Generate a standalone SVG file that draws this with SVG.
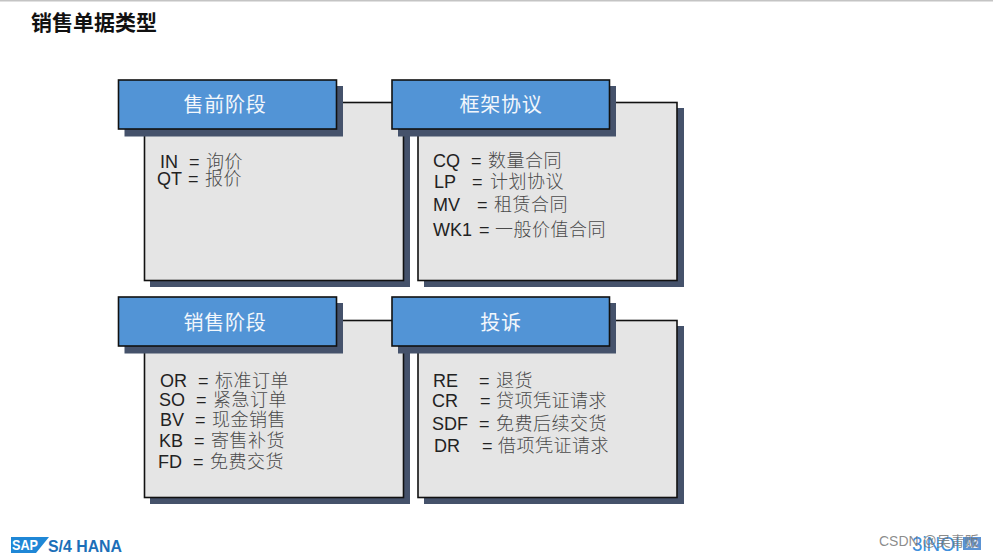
<svg xmlns="http://www.w3.org/2000/svg" width="993" height="558" viewBox="0 0 993 558">
<style>
.body{fill:#e5e5e5;stroke:#111;stroke-width:1.6}
.shadow{fill:#45526b}
.head{fill:#5294d6;stroke:#111;stroke-width:1.6}
.title{font:400 20px "Noto Sans CJK SC","Liberation Serif",serif;fill:#f2f7fc;text-anchor:middle;letter-spacing:.7px}
.lat{font:18px "Liberation Sans",Arial,sans-serif;fill:#222}
.cjk{font:18px "Noto Sans CJK SC",sans-serif;font-weight:300;fill:#4a4a4a;letter-spacing:.5px}
</style>
<rect width="993" height="558" fill="#fff"/>
<rect width="993" height="1.500" fill="#c4c4c4"/>
<text x="31" y="30" font-family="'Noto Sans CJK SC',sans-serif" font-size="21" font-weight="700" fill="#111">销售单据类型</text>

<g id="presales">
<rect class="shadow" x="150" y="108" width="260" height="179"/>
<rect class="body" x="144.500" y="102.500" width="259" height="178"/>
<rect class="shadow" x="124.500" y="86" width="218.500" height="50.500"/>
<rect class="head" x="118.500" y="80" width="218" height="49"/>
<text class="title" x="225" y="112">售前阶段</text>
<text class="lat" x="160" y="168">IN</text><text class="lat" x="189" y="168">=</text><text class="cjk" x="206" y="168">询价</text>
<text class="lat" x="157" y="185">QT</text><text class="lat" x="188" y="185">=</text><text class="cjk" x="205" y="185">报价</text>
</g>

<g id="agreements">
<rect class="shadow" x="424" y="108" width="260" height="179"/>
<rect class="body" x="418" y="102.500" width="259" height="178"/>
<rect class="shadow" x="398" y="86" width="218" height="50.500"/>
<rect class="head" x="392" y="80" width="217.500" height="49"/>
<text class="title" x="501" y="112">框架协议</text>
<text class="lat" x="433" y="167">CQ</text><text class="lat" x="471" y="167">=</text><text class="cjk" x="488" y="167">数量合同</text>
<text class="lat" x="434" y="188">LP</text><text class="lat" x="472" y="188">=</text><text class="cjk" x="490" y="188">计划协议</text>
<text class="lat" x="433" y="211">MV</text><text class="lat" x="477" y="211">=</text><text class="cjk" x="494" y="211">租赁合同</text>
<text class="lat" x="433" y="236">WK1</text><text class="lat" x="479" y="236">=</text><text class="cjk" x="495" y="236">一般价值合同</text>
</g>

<g id="sales">
<rect class="shadow" x="150" y="326" width="260" height="178"/>
<rect class="body" x="144.500" y="320.500" width="259" height="177"/>
<rect class="shadow" x="124.500" y="303" width="218.500" height="50.500"/>
<rect class="head" x="118.500" y="297" width="218" height="49"/>
<text class="title" x="225" y="330">销售阶段</text>
<text class="lat" x="160" y="387">OR</text><text class="lat" x="198" y="387">=</text><text class="cjk" x="215" y="387">标准订单</text>
<text class="lat" x="159" y="406">SO</text><text class="lat" x="196" y="406">=</text><text class="cjk" x="213" y="406">紧急订单</text>
<text class="lat" x="160" y="426">BV</text><text class="lat" x="195" y="426">=</text><text class="cjk" x="212" y="426">现金销售</text>
<text class="lat" x="159" y="447">KB</text><text class="lat" x="194" y="447">=</text><text class="cjk" x="211" y="447">寄售补货</text>
<text class="lat" x="158" y="468">FD</text><text class="lat" x="193" y="468">=</text><text class="cjk" x="210" y="468">免费交货</text>
</g>

<g id="complaints">
<rect class="shadow" x="424" y="326" width="260" height="178"/>
<rect class="body" x="418" y="320.500" width="259" height="177"/>
<rect class="shadow" x="398" y="303" width="218" height="50.500"/>
<rect class="head" x="392" y="297" width="217.500" height="49"/>
<text class="title" x="501" y="330">投诉</text>
<text class="lat" x="433" y="387">RE</text><text class="lat" x="479" y="387">=</text><text class="cjk" x="496" y="387">退货</text>
<text class="lat" x="432" y="407">CR</text><text class="lat" x="480" y="407">=</text><text class="cjk" x="496" y="407">贷项凭证请求</text>
<text class="lat" x="432" y="430">SDF</text><text class="lat" x="479" y="430">=</text><text class="cjk" x="496" y="430">免费后续交货</text>
<text class="lat" x="434" y="452">DR</text><text class="lat" x="482" y="452">=</text><text class="cjk" x="498" y="452">借项凭证请求</text>
</g>

<g id="logo">
<polygon points="11,537 49,537 36,553 11,553" fill="#1f87d6"/>
<text x="12" y="550" font-family="'Liberation Sans',sans-serif" font-size="14" font-weight="700" fill="#fff" textLength="26" lengthAdjust="spacingAndGlyphs">SAP</text>
<text x="48" y="552" font-family="'Liberation Sans',sans-serif" font-size="17" font-weight="700" fill="#1c6fb8" textLength="74" lengthAdjust="spacingAndGlyphs">S/4 HANA</text>
</g>
<g id="footer">
<text x="912" y="551" font-family="'Liberation Sans',sans-serif" font-size="21" fill="#3e8fdc" textLength="48" lengthAdjust="spacingAndGlyphs">3iNOI</text>
<rect x="963" y="537" width="18" height="13" fill="#5b93d3"/>
<text x="972" y="548" font-family="'Liberation Sans',sans-serif" font-size="10" font-weight="700" fill="#e8f0fa" text-anchor="middle">A2</text>
<text x="879" y="546" font-family="'Liberation Sans','Noto Sans CJK SC',sans-serif" font-size="14" fill="#777" fill-opacity=".85">CSDN @吴青贩</text>
</g>
</svg>
